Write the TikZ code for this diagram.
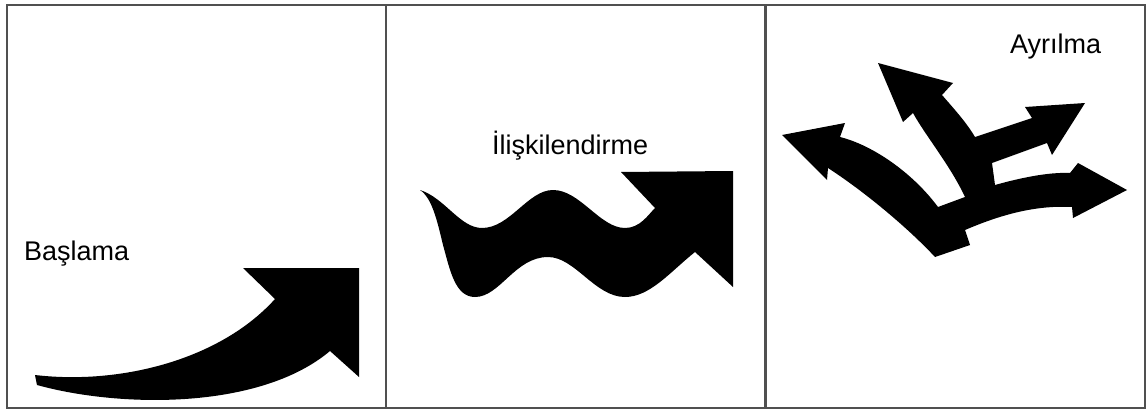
\documentclass[tikz,border=0pt]{standalone}
\usepackage{fontspec}
\setmainfont{Liberation Sans}
\usepackage{tikz}
\usetikzlibrary{positioning,calc}
\definecolor{framegray}{RGB}{80,80,80}

\begin{document}
\begin{tikzpicture}[
      x=1pt, y=-1pt,
      panel/.style={rectangle, draw=framegray, line width=2pt,
                    minimum width=379pt, minimum height=403pt, inner sep=0pt},
      caption/.style={font=\fontsize{27}{32}\selectfont, inner sep=0pt,
                      anchor=base west},
      bigarrow/.style={fill=black, draw=none}
    ]
      \useasboundingbox (0,0) rectangle (1147,412);
      %% Three panels
      \node[panel] (left)   at (196.5, 206.5) {};
      \node[panel] (middle) at (575.5, 206.5) {};
      \node[panel] (right)  at (955.5, 206.5) {};
      %% Captions
      \node[caption] (start)  at (24, 260)   {Başlama};
      \node[caption] (relate) at (492, 154)  {İlişkilendirme};
      \node[caption] (split)  at (1010, 53)  {Ayrılma};
      %% Curved arrow (left panel)
      \path[bigarrow] (35,375) .. controls (120,385) and (220,360) .. (275,299)
            -- (243,268) -- (359,268) -- (359,377) -- (330,351)
            .. controls (260,410) and (120,408) .. (37,385) -- cycle;
      %% Wavy arrow (middle panel)
      \path[bigarrow] (420,190) .. controls (445,198) and (460,228) .. (482,228)
            .. controls (510,228) and (528,190) .. (553,190)
            .. controls (580,190) and (600,228) .. (625,228)
            .. controls (640,228) and (648,215) .. (655,208)
            -- (621,172) -- (733,171) -- (733,287) -- (695,252)
            .. controls (670,272) and (650,297) .. (625,297)
            .. controls (595,297) and (575,257) .. (548,257)
            .. controls (515,257) and (500,297) .. (475,297)
            .. controls (455,297) and (450,270) .. (443,245)
            .. controls (437,220) and (432,198) .. (420,190) -- cycle;
      %% Branching arrows (right panel)
      \path[bigarrow] (782,135) -- (845,123) -- (840,137)
            .. controls (872,145) and (912,172) .. (938,207)
            -- (965,197)
            .. controls (950,165) and (925,135) .. (913,113)
            -- (903,122) -- (878,63) -- (953,83) -- (942,95)
            .. controls (955,110) and (966,122) .. (975,137)
            -- (1032,118) -- (1025,107) -- (1085,103) -- (1052,155)
            -- (1047,143) -- (992,163) -- (995,185)
            .. controls (1020,178) and (1048,172) .. (1070,173)
            -- (1078,163) -- (1127,190) -- (1073,218) -- (1072,207)
            .. controls (1035,205) and (1000,215) .. (965,230)
            -- (970,245) -- (935,257)
            .. controls (908,228) and (865,192) .. (828,168)
            -- (827,180) -- cycle;
    \end{tikzpicture}
\end{document}
